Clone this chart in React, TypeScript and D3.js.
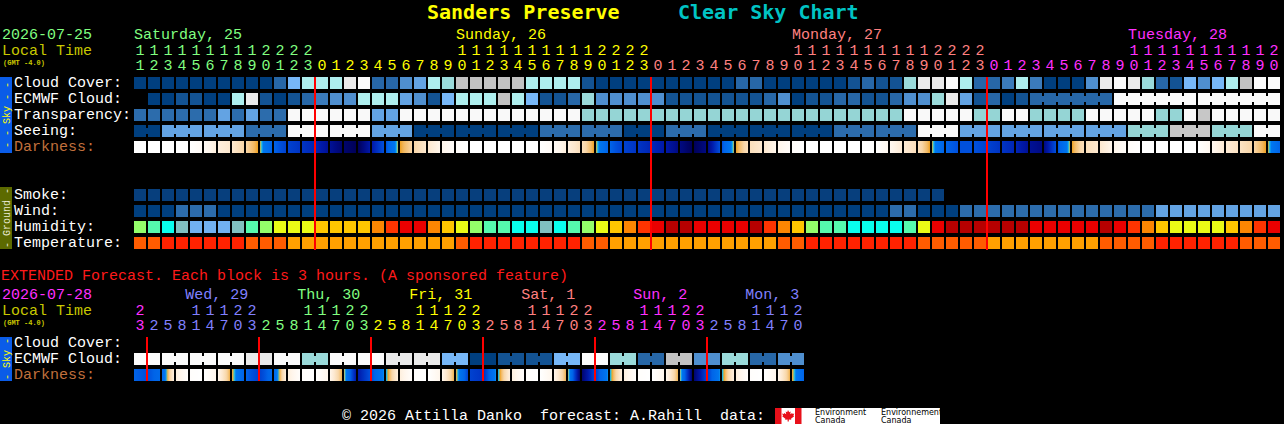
import React from 'react';
import * as d3 from 'd3';

// ---- hourly part: Sat 11h .. Tue 20h ----
const mainHours = [
  11, 12, 13, 14, 15, 16, 17, 18, 19, 20, 21, 22, 23,
  0, 1, 2, 3, 4, 5, 6, 7, 8, 9, 10, 11, 12, 13, 14, 15, 16, 17, 18, 19, 20, 21, 22, 23,
  0, 1, 2, 3, 4, 5, 6, 7, 8, 9, 10, 11, 12, 13, 14, 15, 16, 17, 18, 19, 20, 21, 22, 23,
  0, 1, 2, 3, 4, 5, 6, 7, 8, 9, 10, 11, 12, 13, 14, 15, 16, 17, 18, 19, 20,
];
const mainDays = ['Saturday, 25', 'Sunday, 26', 'Monday, 27', 'Tuesday, 28'];
const mainDayColors = ['#80ff80', '#ffff00', '#ff8080', '#ff30ff'];

// cloud cover in %
const cloudCover = [
  0, 0, 0, 0, 0, 0, 0, 0, 0, 0,
  20, 60, 80, 80, 80, 95, 100, 20, 20, 40,
  50, 80, 70, 90, 90, 90, 90, 90, 80, 80,
  80, 80, 10, 0, 0, 0, 0, 0, 0, 0,
  0, 0, 0, 20, 20, 0, 0, 0, 0, 0,
  0, 10, 20, 10, 10, 70, 95, 95, 100, 80,
  20, 20, 30, 80, 30, 0, 0, 0, 40, 95,
  100, 95, 70, 20, 10, 60, 40, 60, 80, 90,
  100, 100,
];
const ecmwfCloud: (number | null)[] = [
  null, 0, 0, 10, 10, 0, 0, 80, 95, 10,
  0, 10, 20, 30, 40, 40, 80, 80, 80, 50,
  40, 10, 60, 80, 80, 80, 90, 80, 60, 10,
  10, 20, 70, 40, 40, 40, 40, 40, 10, 10,
  10, 10, 10, 10, 10, 20, 40, 0, 10, 10,
  20, 20, 10, 10, 20, 40, 40, 70, 95, 50,
  10, 20, 0, 10, 20, 20, 20, 20, 20, 20,
  100, 100, 100, 100, 100, 100, 100, 100, 100, 100,
  100, 100,
];
const ecmwfJoined = [[64, 69], [70, 75], [76, 81]];
// 0 too cloudy .. 5 best
const transparency = [
  4, 4, 4, 4, 4, 4, 3, 4, 3, 4,
  4, 0, 0, 0, 0, 0, 0, 3, 3, 0,
  0, 0, 0, 0, 0, 0, 0, 0, 0, 0,
  0, 0, 2, 2, 2, 2, 2, 2, 2, 2,
  2, 2, 2, 2, 2, 2, 2, 2, 2, 2,
  2, 2, 2, 2, 2, 0, 0, 0, 0, 0,
  2, 2, 0, 0, 2, 2, 2, 2, 0, 0,
  0, 0, 0, 2, 2, 0, 1, 0, 0, 0,
  0, 0,
];
const seeing = [
  5, 5, 3, 3, 3, 3, 3, 3, 4, 4,
  4, 0, 0, 0, 0, 0, 0, 3, 3, 3,
  5, 5, 5, 5, 5, 5, 5, 5, 5, 4,
  4, 4, 4, 4, 4, 5, 5, 5, 4, 4,
  4, 5, 5, 5, 5, 5, 5, 5, 5, 5,
  4, 4, 4, 4, 4, 4, 0, 0, 0, 3,
  3, 3, 3, 3, 3, 3, 3, 3, 3, 3,
  3, 2, 2, 2, 1, 1, 1, 2, 2, 2,
  0, 0,
];
// darkness at each hour boundary (0 day .. 11 darkest night)
const darkness = [
  0, 0, 0, 0, 0, 0.5, 1.5, 2, 3, 4,
  6.5, 7.5, 8, 8.5, 9.5, 10.5, 11, 9, 7, 4,
  3, 2, 1, 0.3, 0, 0, 0, 0, 0, 0,
  0.5, 1.5, 2.5, 4, 6.5, 7.5, 8, 8.5, 9, 10,
  11, 10, 7, 4, 2.5, 2, 1, 0.3, 0, 0,
  0, 0, 0, 0, 0.8, 1.8, 2.5, 4, 6.5, 7,
  7, 7.5, 8, 8.5, 9.5, 10, 7, 4, 2.5, 2,
  1, 0.3, 0, 0, 0, 0, 0, 0.8, 1.8, 2.3,
  3, 4, 6.5,
];
const smoke = [
  0, 0, 0, 0, 0, 0, 0, 0, 0, 0, 0, 0, 0, 0, 0, 0, 0, 0, 0, 0,
  0, 0, 0, 0, 0, 0, 0, 0, 0, 0, 0, 0, 0, 0, 0, 0, 0, 0, 0, 0,
  0, 0, 0, 0, 0, 0, 0, 0, 0, 0, 0, 0, 0, 0, 0, 0, 0, 0,
];
// wind in mph
const wind = [
  3, 3, 3, 8, 8, 8, 3, 3, 3, 3,
  3, 3, 3, 3, 3, 3, 3, 3, 3, 3,
  3, 3, 3, 3, 3, 3, 3, 3, 3, 3,
  3, 3, 3, 3, 3, 3, 3, 3, 3, 3,
  3, 3, 3, 3, 3, 3, 3, 3, 3, 3,
  3, 3, 3, 3, 8, 8, 4, 4, 4, 8,
  8, 8, 8, 8, 8, 8, 8, 8, 8, 8,
  8, 8, 8, 13, 13, 13, 13, 13, 13, 13,
  13, 13,
];
// relative humidity in %
const humidity = [
  65, 60, 55, 50, 45, 45, 45, 50, 60, 65,
  70, 70, 70, 75, 75, 75, 75, 80, 85, 90,
  90, 80, 75, 70, 65, 60, 60, 55, 55, 50,
  55, 60, 65, 70, 75, 80, 85, 90, 95, 95,
  90, 90, 90, 90, 95, 85, 80, 75, 65, 60,
  60, 55, 55, 55, 55, 60, 70, 90, 95, 95,
  95, 95, 95, 95, 90, 90, 90, 90, 90, 95,
  90, 85, 80, 75, 70, 70, 70, 70, 75, 80,
  85, 90,
];
// temperature in C
const temperature = [
  26, 26, 28, 28, 28, 28, 28, 28, 26, 26,
  26, 23, 23, 23, 23, 23, 23, 23, 23, 23,
  23, 23, 23, 26, 28, 28, 28, 28, 28, 28,
  28, 28, 26, 26, 23, 23, 23, 23, 23, 23,
  23, 23, 23, 23, 23, 23, 26, 26, 28, 28,
  28, 28, 28, 28, 28, 28, 26, 26, 26, 26,
  26, 23, 23, 23, 23, 23, 23, 23, 23, 26,
  26, 26, 26, 28, 28, 28, 28, 28, 28, 26,
  26, 26,
];

// ---- extended part: 3 hour blocks ----
const extHours = [
  23,
  2, 5, 8, 11, 14, 17, 20, 23,
  2, 5, 8, 11, 14, 17, 20, 23,
  2, 5, 8, 11, 14, 17, 20, 23,
  2, 5, 8, 11, 14, 17, 20, 23,
  2, 5, 8, 11, 14, 17, 20, 23,
  2, 5, 8, 11, 14, 17, 20,
];
const extDays = ['', 'Wed, 29', 'Thu, 30', 'Fri, 31', 'Sat, 1', 'Sun, 2', 'Mon, 3'];
const extDayColors = ['#ff30ff', '#8080ff', '#80ff80', '#ffff00', '#ff8080', '#ff30ff', '#8080ff'];
const extEcmwf = [
  100, 100, 100, 100, 100, 100, 100, 100,
  95, 95, 100, 100, 70, 70, 100, 100,
  100, 100, 95, 95, 95, 95, 60, 60,
  0, 0, 10, 10, 10, 10, 60, 60,
  100, 100, 70, 70, 20, 20, 90, 90,
  40, 40, 70, 70, 20, 20, 40, 40,
];
const extDarkness = [
  6.5, 7, 6, 1.5, 0.2, 0, 1, 3.8,
  6.5, 7.5, 6, 1.5, 0.2, 0, 1, 3.8,
  9, 7, 4.5, 1.5, 0.2, 0, 1, 3.8,
  7.5, 8, 4.5, 1.5, 0.2, 0, 1, 3.8,
  10.5, 7.5, 4.5, 1.5, 0.2, 0, 1, 3.8,
  10.5, 7.5, 4.5, 1.5, 0.2, 0, 1, 3.8,
  6.5,
];

const skyLabels = ['Cloud Cover:', 'ECMWF Cloud:', 'Transparency:', 'Seeing:', 'Darkness:'];
const groundLabels = ['Smoke:', 'Wind:', 'Humidity:', 'Temperature:'];
const extLabels = ['Cloud Cover:', 'ECMWF Cloud:', 'Darkness:'];

const MONO = '"Liberation Mono", "DejaVu Sans Mono", monospace';
const X0 = 134;
const STEP = 14;
const CELL = 12;

const band = (n: number) =>
  d3.scaleBand<number>().domain(d3.range(n)).range([X0, X0 + n * STEP - 2]).paddingInner(2 / STEP).paddingOuter(0);

const cloudColor = d3.scaleThreshold<number, string>()
  .domain([5, 15, 25, 35, 45, 55, 65, 75, 85, 93, 98])
  .range(['#003f7f', '#135393', '#2767a7', '#3b7bbb', '#4f8fcf', '#63a3e3', '#77b7f7', '#9adada', '#aeeeee', '#c2c2c2', '#eaeaea', '#fbfbfb']);
const qualityColor = d3.scaleOrdinal<number, string>()
  .domain([0, 1, 2, 3, 4, 5])
  .range(['#f9f9f9', '#c7c7c7', '#95d5d5', '#63a3e3', '#2c6cac', '#003f7f']);
const windColor = d3.scaleThreshold<number, string>()
  .domain([6, 12, 17, 29, 45])
  .range(['#003f7f', '#2c6cac', '#63a3e3', '#95d5d5', '#c7c7c7', '#f9f9f9']);
const humColor = d3.scaleThreshold<number, string>()
  .domain([27.5, 32.5, 37.5, 42.5, 47.5, 52.5, 57.5, 62.5, 67.5, 72.5, 77.5, 82.5, 87.5, 92.5])
  .range(['#08035d', '#0d4d8d', '#3070b0', '#4e8ece', '#71b1f1', '#80c0c0', '#09feed', '#55faad', '#94fe6a', '#eafb16', '#fec600', '#fc8602', '#fe3401', '#ea0000', '#b70000']);
const tempColor = d3.scaleThreshold<number, string>()
  .domain([15, 18, 21, 24.5, 27])
  .range(['#55faad', '#94fe6a', '#fec600', '#ffa000', '#ff5c00', '#ff2200']);
const darkColor = d3.scaleLinear<string>()
  .domain([0, 1, 2, 3, 3.7, 4, 4.3, 4.6, 6.5, 7, 8, 9, 10, 11])
  .range(['#ffffff', '#fff6ec', '#fde8cf', '#f8d6a8', '#f2b860', '#eea020', '#20d8f0', '#0078f0', '#0064e8', '#0050dc', '#0034c4', '#0018a8', '#000a82', '#000058'])
  .clamp(true);

const dayIndex = (hours: number[]) => {
  let d = 0;
  return hours.map((h, i) => {
    if (i > 0 && h < hours[i - 1]) d += 1;
    return d;
  });
};

const gradT = d3.range(13).map(k => k / 12);

const CellRow = ({ values, y, x, color, joined = [] }: {
  values: (number | null)[]; y: number; x: d3.ScaleBand<number>;
  color: (v: number) => string; joined?: number[][];
}) => (
  <g>
    {values.map((v, i) => v == null ? null : (
      <rect key={i} x={x(i)} y={y} width={x.bandwidth()} height={CELL} fill={color(v)} />
    ))}
    {joined.map(([a, b], k) => d3.range(a, b).map(i => (
      <rect key={`${k}-${i}`} x={(x(i) as number) + CELL} y={y + 3} width={STEP - CELL} height={6}
        fill={color(values[i] as number)} />
    )))}
  </g>
);

const DarkRow = ({ values, y, x, id }: { values: number[]; y: number; x: d3.ScaleBand<number>; id: string }) => (
  <g>
    <defs>
      {values.slice(0, -1).map((v, i) => (
        <linearGradient key={i} id={`${id}${i}`} x1="0" x2="1" y1="0" y2="0">
          {gradT.map(t => (
            <stop key={t} offset={t} stopColor={darkColor(v + t * (values[i + 1] - v))} />
          ))}
        </linearGradient>
      ))}
    </defs>
    {values.slice(0, -1).map((_, i) => (
      <rect key={i} x={x(i)} y={y} width={x.bandwidth()} height={CELL} fill={`url(#${id}${i})`} />
    ))}
  </g>
);

const HourAxis = ({ hours, x, colors, days, perCol, yDay, yTens, yOnes }: {
  hours: number[]; x: d3.ScaleBand<number>; colors: string[]; days: string[]; perCol: number;
  yDay: number; yTens: number; yOnes: number;
}) => {
  const di = dayIndex(hours);
  return (
    <g fontFamily={MONO} fontSize={15}>
      {days.map((name, d) => {
        if (!name) return null;
        const cols = d3.range(hours.length).filter(i => di[i] === d);
        const c = cols.find(i => hours[i] >= 10);
        if (c == null) return null;
        const lx = Math.max(x(cols[0]) as number, (x(c) as number) - (hours[c] - 10) * STEP / perCol);
        return <text key={d} x={lx} y={yDay} fill={colors[d]}>{name}</text>;
      })}
      {hours.map((h, i) => {
        const cx = (x(i) as number) + CELL / 2;
        return (
          <g key={i} fill={colors[di[i]]} textAnchor="middle">
            {h >= 10 && <text x={cx} y={yTens}>{Math.floor(h / 10)}</text>}
            <text x={cx} y={yOnes}>{h % 10}</text>
          </g>
        );
      })}
    </g>
  );
};

const MidnightLines = ({ hours, x, y0, y1 }: { hours: number[]; x: d3.ScaleBand<number>; y0: number; y1: number }) => (
  <g>
    {hours.map((h, i) => (i > 0 && h < hours[i - 1]) ? (
      <rect key={i} x={(x(i) as number) - 2} y={y0} width={2} height={y1 - y0} fill="#ff0000" />
    ) : null)}
  </g>
);

const SideBar = ({ y0, y1, fill, label, color }: { y0: number; y1: number; fill: string; label: string; color: string }) => (
  <g>
    <rect x={0} y={y0} width={12} height={y1 - y0} fill={fill} />
    <text transform={`translate(9.5,${(y0 + y1) / 2}) rotate(-90)`} textAnchor="middle"
      fontFamily={MONO} fontSize={10} fill={color} style={{ whiteSpace: 'pre' }}>{label}</text>
  </g>
);

const App = () => {
  const xm = band(mainHours.length);
  const xe = band(extHours.length);
  const skyY = [77, 93, 109, 125, 141];
  const groundY = [189, 205, 221, 237];
  const extY = [337, 353, 369];
  const extJoined = d3.range(0, extHours.length, 2).map(i => [i, i + 1]);
  const seeingJoined: number[][] = [];
  mainHours.forEach((h, i) => {
    if (i === 0 || h % 3 === 1) seeingJoined.push([i, i]);
    else seeingJoined[seeingJoined.length - 1][1] = i;
  });

  return (
    <>
      <style>{'body{margin:0;background:#000}'}</style>
      <svg width={1284} height={424} style={{ display: 'block', background: '#000' }}>
        <rect width={1284} height={424} fill="#000" />
        {/* title */}
        <g fontFamily='"DejaVu Sans Mono", monospace' fontWeight="bold" fontSize={20}>
          <text x={427} y={19} fill="#ffff00">Sanders Preserve</text>
          <text x={678} y={19} fill="#00c4c4">Clear Sky Chart</text>
        </g>

        {/* hourly header */}
        <g fontFamily={MONO} fontSize={15}>
          <text x={2} y={39} fill={mainDayColors[0]}>2026-07-25</text>
          <text x={2} y={55} fill="#c8c800">Local Time</text>
        </g>
        <text x={3} y={65} fontFamily={MONO} fontSize={7} fontWeight="bold" fill="#c8c800">(GMT -4.0)</text>
        <HourAxis hours={mainHours} x={xm} colors={mainDayColors} days={mainDays} perCol={1}
          yDay={39} yTens={55} yOnes={70} />

        {/* sky rows */}
        <SideBar y0={77} y1={153} fill="#0a5ce8" label="- - Sky - -" color="#ffff00" />
        <g fontFamily={MONO} fontSize={15}>
          {skyLabels.map((l, k) => (
            <text key={l} x={14} y={skyY[k] + 10} fill={k === 4 ? '#c0703c' : '#ffffff'}>{l}</text>
          ))}
          {groundLabels.map((l, k) => (
            <text key={l} x={14} y={groundY[k] + 10} fill="#ffffff">{l}</text>
          ))}
        </g>
        <CellRow values={cloudCover} y={skyY[0]} x={xm} color={cloudColor} />
        <CellRow values={ecmwfCloud} y={skyY[1]} x={xm} color={cloudColor} joined={ecmwfJoined} />
        <CellRow values={transparency} y={skyY[2]} x={xm} color={qualityColor} />
        <CellRow values={seeing} y={skyY[3]} x={xm} color={qualityColor} joined={seeingJoined} />
        <DarkRow values={darkness} y={skyY[4]} x={xm} id="dkm" />

        {/* ground rows */}
        <SideBar y0={187} y1={249} fill="#5c6a00" label="- Ground -" color="#e8e8d0" />
        <CellRow values={smoke} y={groundY[0]} x={xm} color={() => '#073f7d'} />
        <CellRow values={wind} y={groundY[1]} x={xm} color={windColor} />
        <CellRow values={humidity} y={groundY[2]} x={xm} color={humColor} />
        <CellRow values={temperature} y={groundY[3]} x={xm} color={tempColor} />
        <MidnightLines hours={mainHours} x={xm} y0={77} y1={250} />

        {/* extended forecast */}
        <text x={1} y={280} fontFamily={MONO} fontSize={15} fill="#ff1a1a">
          EXTENDED Forecast. Each block is 3 hours. (A sponsored feature)
        </text>
        <g fontFamily={MONO} fontSize={15}>
          <text x={2} y={299} fill={extDayColors[0]}>2026-07-28</text>
          <text x={2} y={315} fill="#c8c800">Local Time</text>
        </g>
        <text x={3} y={325} fontFamily={MONO} fontSize={7} fontWeight="bold" fill="#c8c800">(GMT -4.0)</text>
        <HourAxis hours={extHours} x={xe} colors={extDayColors} days={extDays} perCol={3}
          yDay={299} yTens={315} yOnes={330} />
        <SideBar y0={337} y1={381} fill="#0a5ce8" label="- Sky -" color="#ffff00" />
        <g fontFamily={MONO} fontSize={15}>
          {extLabels.map((l, k) => (
            <text key={l} x={14} y={extY[k] + 10} fill={k === 2 ? '#c0703c' : '#ffffff'}>{l}</text>
          ))}
        </g>
        <CellRow values={extEcmwf} y={extY[1]} x={xe} color={cloudColor} joined={extJoined} />
        <DarkRow values={extDarkness} y={extY[2]} x={xe} id="dke" />
        <MidnightLines hours={extHours} x={xe} y0={337} y1={381} />

        {/* footer */}
        <text x={342} y={420} fontFamily={MONO} fontSize={15} fill="#ffffff" style={{ whiteSpace: 'pre' }}>
          © 2026 Attilla Danko  forecast: A.Rahill  data:
        </text>
        <g>
          <rect x={775} y={408} width={165} height={16} fill="#ffffff" />
          <rect x={775} y={408} width={6.5} height={16} fill="#e8101a" />
          <rect x={795} y={408} width={6.5} height={16} fill="#e8101a" />
          <path d="M788,410 l1.2,2.2 1.5,-0.7 -0.5,2.8 2,-1.4 0.4,1.1 1.7,-0.4 -0.9,2.2 0.8,0.5 -3.2,2.4 0.3,1.1 -2.5,-0.4 0,2.2 h-1.2 v-2.2 l-2.5,0.4 0.3,-1.1 -3.2,-2.4 0.8,-0.5 -0.9,-2.2 1.7,0.4 0.4,-1.1 2,1.4 -0.5,-2.8 1.5,0.7 z" fill="#e8101a" />
          <g fontFamily='"DejaVu Sans", sans-serif' fontSize={8} fill="#000">
            <text x={815} y={415}>Environment</text>
            <text x={815} y={423}>Canada</text>
            <text x={881} y={415}>Environnement</text>
            <text x={881} y={423}>Canada</text>
          </g>
        </g>
      </svg>
    </>
  );
};

export default App;
